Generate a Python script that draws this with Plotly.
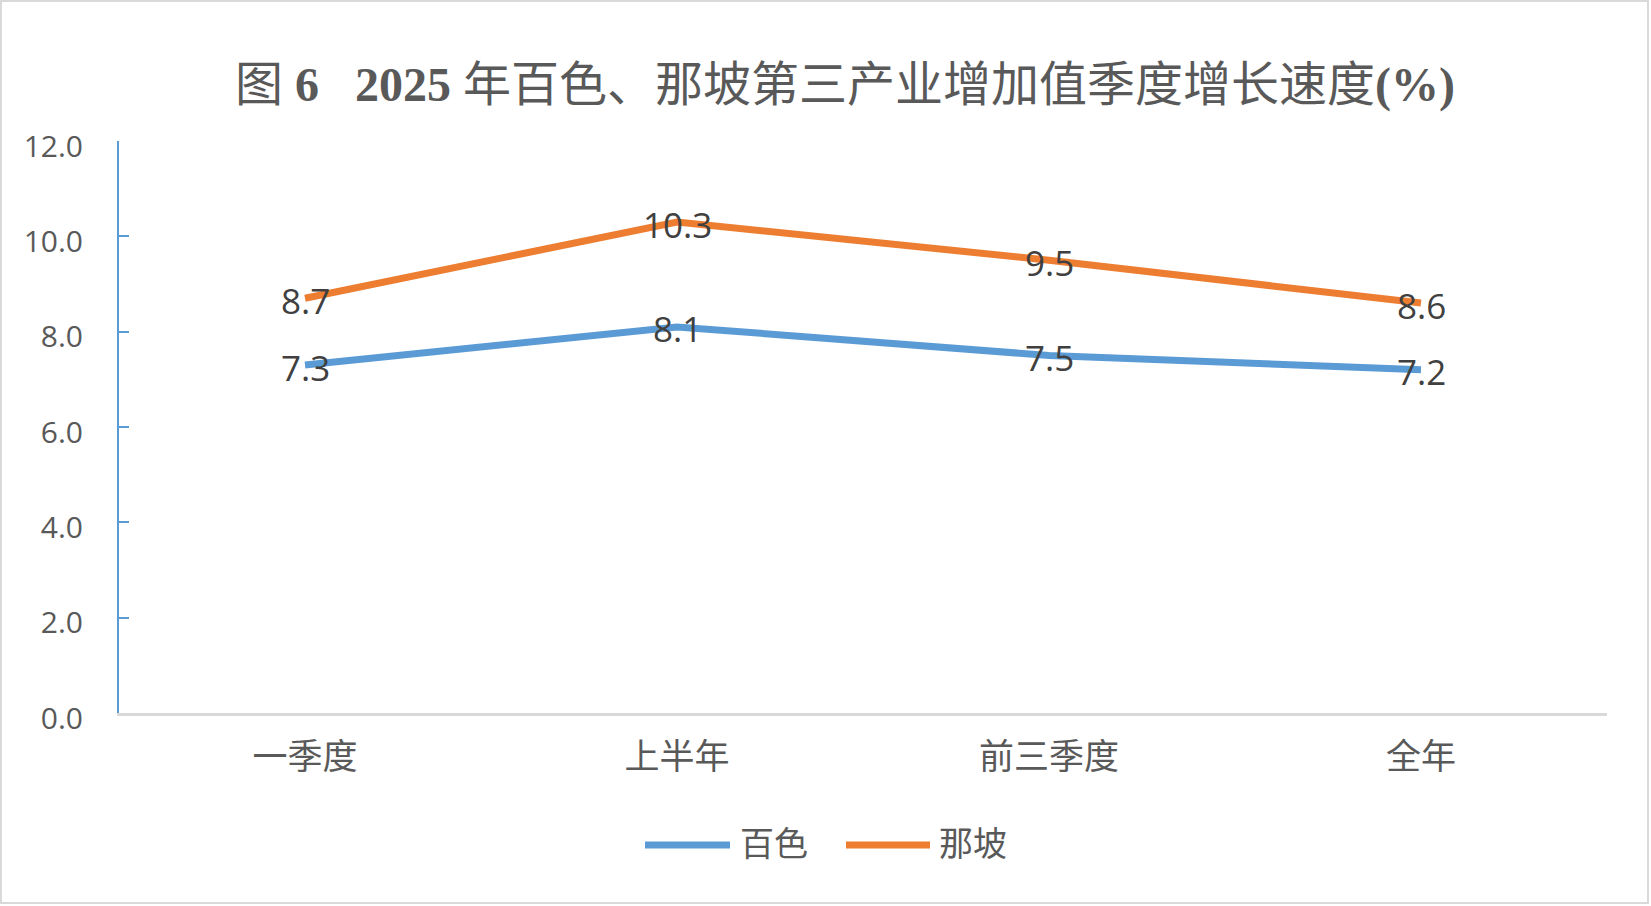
import plotly.graph_objects as go

# Data
categories = ['一季度', '上半年', '前三季度', '全年']
baise = [7.3, 8.1, 7.5, 7.2]
napo = [8.7, 10.3, 9.5, 8.6]
series_names = ['百色', '那坡']
series_colors = ['#5B9BD5', '#ED7D31']
y_ticks = [0, 2, 4, 6, 8, 10, 12]

title_text = ('图 <b>6</b><b>\u00a0\u00a0\u00a0</b><b>2025</b> 年百色、那坡第三产业增加值季度增长速度'
              '<b>(%)</b>')

# page geometry (px)
W, H = 1651, 906
ml, mr, mt, mb = 119, 44, 141, 193
pw, ph = W - ml - mr, H - mt - mb


def px_x(x):
    return (x - ml) / pw


def px_y(y):
    return (H - mb - y) / ph


fig = go.Figure()
annotations = []
for name, vals, color in zip(series_names, [baise, napo], series_colors):
    fig.add_trace(go.Scatter(
        x=categories, y=vals, name=name, mode='lines',
        line=dict(color=color, width=7),
        showlegend=False,
    ))
    # data labels centred on the points (Excel puts them a touch lower)
    for c, v in zip(categories, vals):
        annotations.append(dict(x=c, y=v, text=f'{v:.1f}', showarrow=False,
                                xanchor='center', yanchor='middle', yshift=-2,
                                font=dict(family='Open Sans', size=35, color='#404040')))

# hand-drawn legend like Excel's (long line samples)
legend_y = 842
legend_pos = [(645, 730, 738), (846, 930, 937)]
shapes = [dict(type='rect', xref='paper', yref='paper',
               x0=px_x(1), x1=px_x(1648), y0=px_y(903), y1=px_y(1),
               line=dict(color='#D9D9D9', width=2))]
for (lx0, lx1, tx), name, color in zip(legend_pos, series_names, series_colors):
    shapes.append(dict(type='line', xref='paper', yref='paper',
                       x0=px_x(lx0), x1=px_x(lx1), y0=px_y(legend_y + 3), y1=px_y(legend_y + 3),
                       line=dict(color=color, width=7)))
    annotations.append(dict(xref='paper', yref='paper', x=px_x(tx), y=px_y(legend_y),
                            text=name, showarrow=False, xanchor='left', yanchor='middle',
                            font=dict(family='Noto Sans CJK SC', size=34, color='#595959')))

fig.update_layout(
    width=W, height=H,
    margin=dict(l=ml, r=mr, t=mt, b=mb),
    paper_bgcolor='white', plot_bgcolor='white',
    title=dict(text=title_text, x=845 / W, xanchor='center', xref='container',
               y=1 - 84 / H, yanchor='middle', yref='container',
               font=dict(family='Liberation Serif, Noto Sans CJK SC', size=48, color='#595959')),
    shapes=shapes,
    annotations=annotations,
    showlegend=False,
)

fig.update_xaxes(
    type='category', range=[-0.5, 3.5],
    showline=True, linecolor='#D9D9D9', linewidth=3,
    showgrid=False, ticks='',
    tickfont=dict(family='Noto Sans CJK SC', size=35, color='#595959'),
    ticklabelstandoff=11,
)
fig.update_yaxes(
    range=[0, 12], tickvals=y_ticks, tickformat='.1f',
    showline=True, linecolor='#5B9BD5', linewidth=2,
    ticks='inside', ticklen=10, tickwidth=2, tickcolor='#5B9BD5',
    showgrid=False, zeroline=False,
    tickfont=dict(family='Open Sans', size=30, color='#595959'),
    ticklabelstandoff=28, ticklabelshift=5,
)

# drop the browser's default 8px body margin so the chart fills the window
fig.write_html("out.html", config={'displayModeBar': False},
               post_script="document.body.style.margin='0';")
